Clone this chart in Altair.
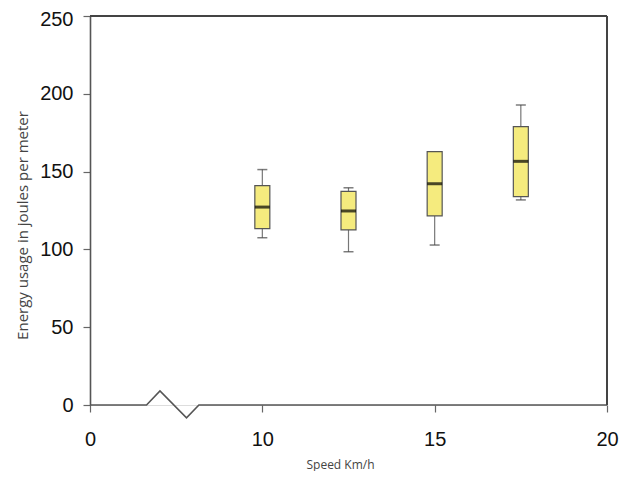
import altair as alt
import pandas as pd

# Data
speeds = [10, 12.5, 15, 17.5]
whisker_low = [107.5, 98.5, 102.8, 131.8]
q1 = [113.4, 112.5, 121.5, 133.9]
median = [127.2, 124.7, 142.2, 156.6]
q3 = [141.0, 137.3, 162.8, 178.9]
whisker_high = [151.3, 139.6, 162.5, 192.8]

# x axis: position 5 stands for the broken "0"
x_tick_values = [5, 10, 15, 20]
x_tick_labels = ["0", "10", "15", "20"]
y_tick_values = [0, 50, 100, 150, 200, 250]

# axis break zigzag on the x axis line
break_x = [5, 6.64, 7.03, 7.8, 8.16, 20]
break_y = [0, 0, 9, -8.2, 0, 0]

df = pd.DataFrame({
    "speed": speeds, "lo": whisker_low, "q1": q1, "med": median,
    "q3": q3, "hi": whisker_high,
})
brk = pd.DataFrame({"x": break_x, "y": break_y, "order": list(range(len(break_x)))})

label_expr = " : ".join(
    f"datum.value == {v} ? '{l}'" for v, l in zip(x_tick_values, x_tick_labels)
) + " : datum.label"

xscale = alt.Scale(domain=[5, 20], nice=False, zero=False, padding=0)
yscale = alt.Scale(domain=[0, 250], nice=False, padding=0)

xaxis = alt.Axis(
    values=x_tick_values, labelExpr=label_expr, domain=False, grid=False,
    labelFlush=False,
    tickSize=7, tickColor="#666", tickWidth=1.2, labelFontSize=20,
    labelFont="Liberation Sans", labelColor="#111", labelPadding=17,
    title="Speed Km/h", titleFont="Open Sans", titleFontSize=12,
    titleFontWeight="normal", titleColor="#444", titleX=250, titleY=63,
    titleBaseline="alphabetic", titleAlign="center",
)
yaxis = alt.Axis(
    values=y_tick_values, grid=False, domainColor="#555", domainWidth=1.6,
    tickSize=7, tickColor="#666", tickWidth=1.2, labelFontSize=20,
    labelFont="Liberation Sans", labelColor="#111", labelPadding=10,
    labelOffset={"expr": "datum.value == 250 ? 3 : 0"},
    title="Energy usage in joules per meter", titleFont="Open Sans",
    titleFontSize=15, titleFontWeight="normal", titleColor="#444",
    titleX=-68, titleY=209, titleAngle=-90, titleBaseline="middle",
    titleAlign="center",
)

base = alt.Chart(df)

whisk = base.mark_rule(color="#777", strokeWidth=1.2).encode(
    x=alt.X("speed:Q", scale=xscale, axis=xaxis),
    y=alt.Y("lo:Q", scale=yscale, axis=yaxis),
    y2="hi:Q",
)
cap_lo = base.mark_tick(color="#444", thickness=1.5, size=10, orient="horizontal").encode(
    x="speed:Q", y="lo:Q")
cap_hi = base.mark_tick(color="#444", thickness=1.5, size=10, orient="horizontal").encode(
    x="speed:Q", y="hi:Q")
box = base.mark_bar(size=15, color="#F5EB7E", stroke="#555", strokeWidth=1.2).encode(
    x="speed:Q", y="q1:Q", y2="q3:Q")
med = base.mark_tick(color="#000", thickness=3, size=15, orient="horizontal").encode(
    x="speed:Q", y="med:Q")

xline = alt.Chart(brk).mark_line(color="#555", strokeWidth=1.6).encode(
    x="x:Q", y="y:Q", order="order:Q")

frame_top = alt.Chart(pd.DataFrame({"a": [5], "b": [20], "y": [250]})).mark_rule(
    color="#444", strokeWidth=2).encode(x="a:Q", x2="b:Q", y="y:Q")
frame_right = alt.Chart(pd.DataFrame({"x": [20], "a": [0], "b": [250]})).mark_rule(
    color="#444", strokeWidth=2).encode(x="x:Q", y="a:Q", y2="b:Q")

chart = alt.layer(
    whisk, cap_lo, cap_hi, box, med, xline, frame_top, frame_right
).properties(
    width=517, height=389,
    autosize=alt.AutoSizeParams(type="none"),
    padding={"left": 82, "top": 8, "right": 15, "bottom": 66},
).configure_view(stroke=None).configure(background="white")

chart.save("out.html", embed_options={"renderer": "svg", "actions": False})
